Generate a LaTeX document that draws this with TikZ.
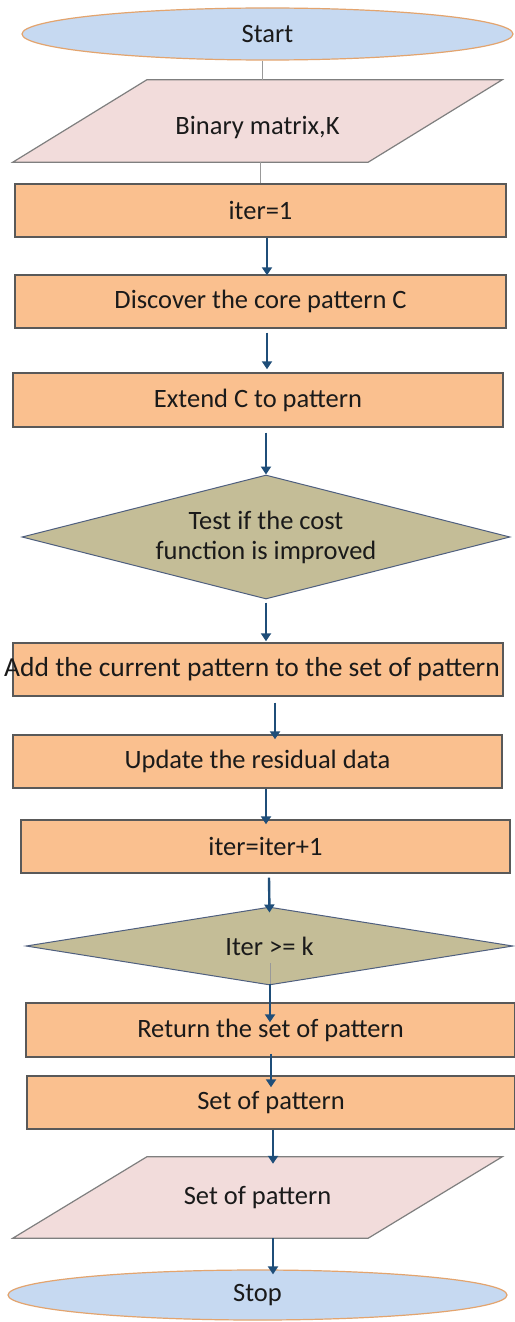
\documentclass[tikz,border=0pt]{standalone}
\usepackage{fontspec}
\setmainfont{Carlito}
\usetikzlibrary{shapes.geometric,calc,arrows.meta,backgrounds}

\definecolor{termfill}{HTML}{C6D9F1}
\definecolor{termline}{HTML}{E3A46E}
\definecolor{iofill}{HTML}{F2DCDB}
\definecolor{ioline}{HTML}{7F7F7F}
\definecolor{procfill}{HTML}{FAC08F}
\definecolor{procline}{HTML}{595959}
\definecolor{decfill}{HTML}{C4BD97}
\definecolor{decline}{HTML}{4F5F7F}
\definecolor{flow}{HTML}{1F4E79}
\definecolor{ink}{HTML}{1A1A1A}

\tikzset{
  base/.style={inner sep=0pt, text=ink, font=\fontsize{26.5}{30}\selectfont, align=center},
  terminal/.style={base, ellipse, draw=termline, line width=1.2pt, fill=termfill},
  iobox/.style={base, rectangle, minimum width=355pt},
  iobody/.style={draw=ioline, line width=1.2pt, fill=iofill},
  process/.style={base, rectangle, draw=procline, line width=1.4pt, fill=procfill},
  decision/.style={base, diamond, draw=decline, line width=1pt, fill=decfill},
  flowarrow/.style={draw=flow, line width=2.4pt, -{Triangle[length=8pt,width=10pt]}},
  plainlink/.style={draw=ioline!80, line width=0.8pt}
}

\begin{document}
\begin{tikzpicture}[x=1pt,y=-1pt]
\useasboundingbox (0,0) rectangle (514,1322);

% terminals
\node[terminal, minimum width=491pt, minimum height=52pt] (start) at (267.5,34) {Start};
\node[terminal, minimum width=499pt, minimum height=50pt] (stop) at (257.5,1295) {Stop};

% input / output
\node[iobox, minimum height=82pt, text height=32pt, text depth=6pt] (input) at (257.5,121) {Binary matrix,K};
\node[iobox, minimum height=81pt] (output) at (257.5,1197.5) {Set of pattern};
\begin{pgfonlayer}{background}
  \fill[white] (0,0) rectangle (514,1322);
  \path[iobody] ([xshift=67pt]input.north west) -- ([xshift=67pt]input.north east)
    -- ([xshift=-67pt]input.south east) -- ([xshift=-67pt]input.south west) -- cycle;
  \path[iobody] ([xshift=67pt]output.north west) -- ([xshift=67pt]output.north east)
    -- ([xshift=-67pt]output.south east) -- ([xshift=-67pt]output.south west) -- cycle;
\end{pgfonlayer}

% processes
\node[process, minimum width=491pt, minimum height=53pt] (init) at (260.5,210.5) {iter=1};
\node[process, minimum width=491pt, minimum height=53pt] (core) at (260.5,301.5) {Discover the core pattern C};
\node[process, minimum width=490pt, minimum height=54pt] (extend) at (258,400) {Extend C to pattern};
\node[process, minimum width=490pt, minimum height=53pt, font=\fontsize{27.5}{30}\selectfont] (add) at (258,669.5)
  {\makebox[0pt][c]{\hspace*{-12pt}Add the current pattern to the set of pattern}};
\node[process, minimum width=489pt, minimum height=53pt] (update) at (257.5,761.5) {Update the residual data};
\node[process, minimum width=489pt, minimum height=53pt] (incr) at (265.5,846.5) {iter=iter+1};
\node[process, minimum width=489pt, minimum height=54pt] (ret) at (270.5,1030) {Return the set of pattern};
\node[process, minimum width=488pt, minimum height=53pt] (set) at (271,1102.5) {Set of pattern};

% decisions
\node[decision, aspect=3.94, minimum width=488pt, minimum height=124pt] (cost) at (266,537) {Test if the cost\\function is improved};
\node[decision, aspect=6.24, minimum width=487pt, minimum height=78pt] (test) at (269.5,946) {Iter >= k};

% thin links at the top
\draw[plainlink] (start.south -| 262,0) -- (input.north -| 262,0);
\draw[plainlink] (input.south -| 260,0) -- (init.north -| 260,0);

% flow arrows
\draw[flowarrow] (init.south -| 267,0) -- ($(core.north -| 267,0)+(0,1)$);
\draw[flowarrow] ($(core.south -| 267,0)+(0,4)$) -- ($(extend.north -| 267,0)+(0,-3)$);
\draw[flowarrow] ($(extend.south -| 266,0)+(0,5)$) -- (cost.north);
\draw[flowarrow] ($(cost.south -| 266,0)+(0,3)$) -- ($(add.north -| 266,0)+(0,-1)$);
\draw[flowarrow] ($(add.south -| 275,0)+(0,6)$) -- ($(update.north -| 275,0)+(0,5)$);
\draw[flowarrow] (update.south -| 266,0) -- ($(incr.north -| 266,0)+(0,5)$);
\draw[flowarrow] ($(incr.south -| 269,0)+(0,4)$) -- ($(test.north)+(0,6)$);
\draw[plainlink] (270,963) -- (test.south -| 270,0);
\draw[flowarrow] ($(test.south -| 270,0)+(0,-2)$) -- ($(ret.north -| 270,0)+(0,20)$);
\draw[flowarrow] ($(ret.south -| 271,0)+(0,-4)$) -- ($(set.north -| 271,0)+(0,12)$);
\draw[flowarrow] (set.south -| 273,0) -- ($(output.north -| 273,0)+(0,7)$);
\draw[flowarrow] (output.south -| 273,0) -- ($(stop.north -| 273,0)+(0,5)$);
\end{tikzpicture}
\end{document}
